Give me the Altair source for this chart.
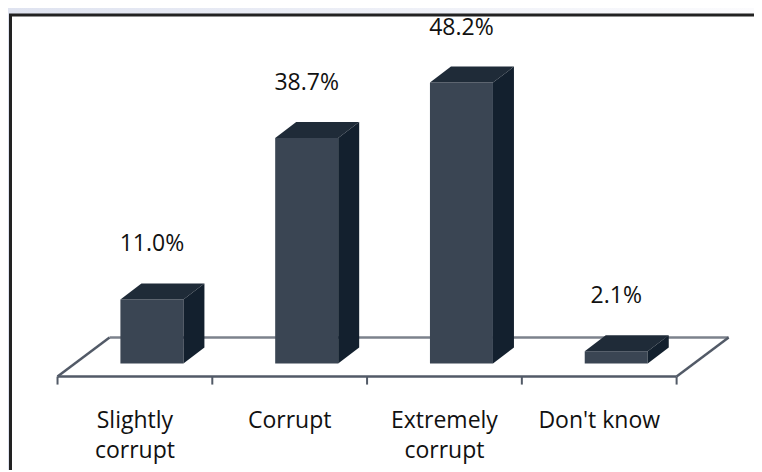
import altair as alt
import pandas as pd

# ---- data ----
categories = ["Slightly corrupt", "Corrupt", "Extremely corrupt", "Don't know"]
label_lines = [["Slightly", "corrupt"], ["Corrupt"], ["Extremely", "corrupt"], ["Don't know"]]
values = [11.0, 38.7, 48.2, 2.1]
value_labels = ["11.0%", "38.7%", "48.2%", "2.1%"]

# ---- layout / style ----
W, H = 746, 462
PX_Y = 5.829
X_DOMAIN = [-0.32, 4.5]
Y_DOMAIN = [61.0 - H / PX_Y, 61.0]
PX_X = W / (X_DOMAIN[1] - X_DOMAIN[0])

FLOOR_FRONT = -13 / PX_Y
FLOOR_BACK = 26 / PX_Y
FLOOR_DX = 52 / PX_X
BAR_SHIFT = 17 / PX_X
BAR_HALF = 31.5 / PX_X
BAR_DX = 21 / PX_X
BAR_DY = 16 / PX_Y
TICK_LEN = 8 / PX_Y
CAT_LABEL_Y = FLOOR_FRONT - 51 / PX_Y

FONT = "Open Sans"
FRONT_C = "#3a4553"
TOP_C = "#1f2b38"
SIDE_C = "#13202e"

n = len(categories)
xs = alt.Scale(domain=X_DOMAIN)
ys = alt.Scale(domain=Y_DOMAIN)

# bars
bars = pd.DataFrame({
    "cat": categories,
    "value": values,
    "label": value_labels,
    "cx": [k + 0.5 + BAR_SHIFT for k in range(n)],
})
bars["xl"] = bars["cx"] - BAR_HALF
bars["xr"] = bars["cx"] + BAR_HALF
bars["zero"] = 0.0

top_rows, side_rows = [], []
for _, r in bars.iterrows():
    top_rows.append({"cat": r["cat"], "yy": r["value"], "xa": r["xl"], "xb": r["xr"]})
    top_rows.append({"cat": r["cat"], "yy": r["value"] + BAR_DY, "xa": r["xl"] + BAR_DX, "xb": r["xr"] + BAR_DX})
    side_rows.append({"cat": r["cat"], "xx": r["xr"], "ya": 0.0, "yb": r["value"]})
    side_rows.append({"cat": r["cat"], "xx": r["xr"] + BAR_DX, "ya": BAR_DY, "yb": r["value"] + BAR_DY})
tops = pd.DataFrame(top_rows)
sides = pd.DataFrame(side_rows)

floor = pd.DataFrame([
    {"x": FLOOR_DX, "y": FLOOR_BACK, "x2": n + FLOOR_DX, "y2": FLOOR_BACK, "edge": "back"},
    {"x": 0, "y": FLOOR_FRONT, "x2": FLOOR_DX, "y2": FLOOR_BACK, "edge": "side"},
    {"x": n, "y": FLOOR_FRONT, "x2": n + FLOOR_DX, "y2": FLOOR_BACK, "edge": "side"},
    {"x": 0, "y": FLOOR_FRONT, "x2": n, "y2": FLOOR_FRONT, "edge": "front"},
])
ticks = pd.DataFrame({"x": list(range(n + 1))})
ticks["y"] = FLOOR_FRONT
ticks["y2"] = FLOOR_FRONT - TICK_LEN

cats = pd.DataFrame({
    "x": [k + 0.5 for k in range(n)],
    "y": [CAT_LABEL_Y] * n,
    "text": ["\n".join(l) for l in label_lines],
})

dummy = pd.DataFrame({"a": [0]})

bg = alt.Chart(dummy).mark_rect(
    color=alt.Gradient(gradient="linear", x1=0, x2=1, y1=0, y2=0,
                       stops=[alt.GradientStop(color="#dfe3f0", offset=0),
                              alt.GradientStop(color="#fbfbfd", offset=1)])
).encode(x=alt.value(0), x2=alt.value(W), y=alt.value(0), y2=alt.value(H))

frame = alt.Chart(dummy).mark_rect(color="white", stroke="#222222", strokeWidth=3).encode(
    x=alt.value(2.5), x2=alt.value(W + 40), y=alt.value(7), y2=alt.value(H + 40))

floor_back = alt.Chart(floor[floor.edge == "back"]).mark_rule(color="#7c828c", strokeWidth=2.5).encode(
    x=alt.X("x:Q", scale=xs, axis=None), y=alt.Y("y:Q", scale=ys, axis=None), x2="x2:Q", y2="y2:Q")
floor_edges = alt.Chart(floor[floor.edge != "back"]).mark_rule(color="#525a67", strokeWidth=2.5).encode(
    x=alt.X("x:Q", scale=xs, axis=None), y=alt.Y("y:Q", scale=ys, axis=None), x2="x2:Q", y2="y2:Q")
tick_rules = alt.Chart(ticks).mark_rule(color="#525a67", strokeWidth=2).encode(
    x=alt.X("x:Q", scale=xs, axis=None), y=alt.Y("y:Q", scale=ys, axis=None), y2="y2:Q")

front = alt.Chart(bars).mark_rect(color=FRONT_C).encode(
    x=alt.X("xl:Q", scale=xs, axis=None), x2="xr:Q",
    y=alt.Y("zero:Q", scale=ys, axis=None), y2="value:Q")
top = alt.Chart(tops).mark_area(orient="horizontal", color=TOP_C).encode(
    y=alt.Y("yy:Q", scale=ys, axis=None), x=alt.X("xa:Q", scale=xs, axis=None), x2="xb:Q",
    detail="cat:N")
side = alt.Chart(sides).mark_area(color=SIDE_C).encode(
    x=alt.X("xx:Q", scale=xs, axis=None), y=alt.Y("ya:Q", scale=ys, axis=None), y2="yb:Q",
    detail="cat:N")

vlabels = alt.Chart(bars).mark_text(font=FONT, fontSize=23, color="#111111",
                                    baseline="middle", align="center", dy=-55).encode(
    x=alt.X("cx:Q", scale=xs, axis=None), y=alt.Y("value:Q", scale=ys, axis=None), text="label:N")

clabels = alt.Chart(cats).mark_text(font=FONT, fontSize=23, color="#111111", lineBreak="\n",
                                    lineHeight=30, baseline="alphabetic", align="center").encode(
    x=alt.X("x:Q", scale=xs, axis=None), y=alt.Y("y:Q", scale=ys, axis=None), text="text:N")

chart = alt.layer(bg, frame, floor_back, floor_edges, tick_rules, front, top, side, vlabels, clabels).properties(
    width=W, height=H, autosize=alt.AutoSizeParams(type="none"), padding=0
).configure_view(stroke=None)

chart.save("out.html", embed_options={"renderer": "svg", "actions": False})
